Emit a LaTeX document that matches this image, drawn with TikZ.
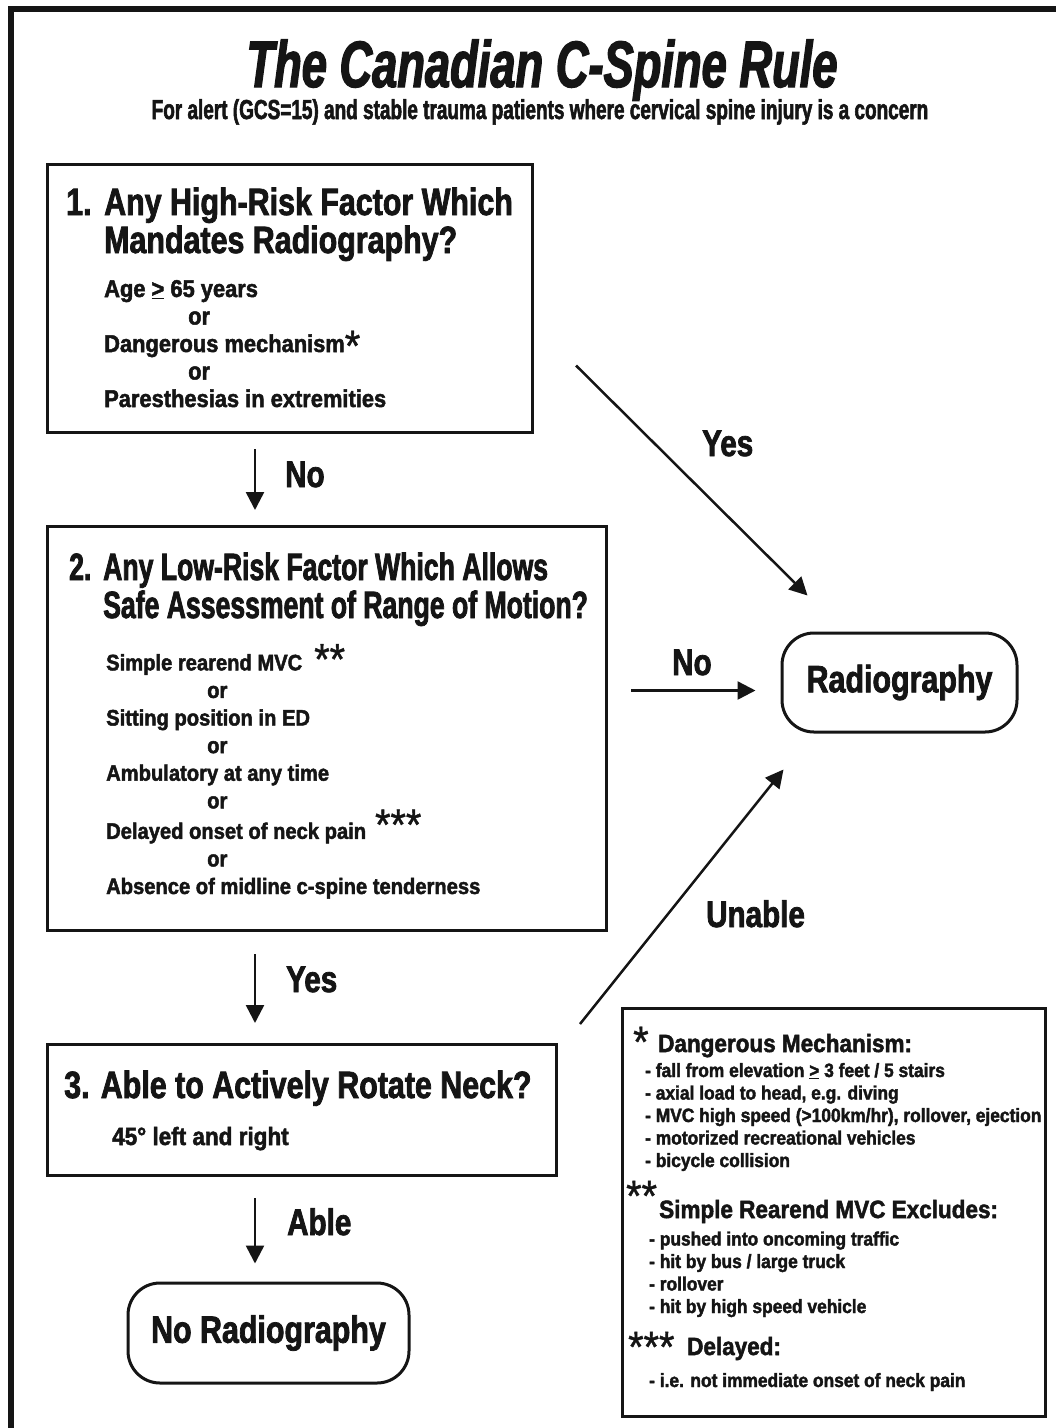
\documentclass[tikz,border=0pt]{standalone}
\usepackage{fontspec}
\usepackage{xcolor}
\usepackage{tikz}
\usetikzlibrary{calc,arrows.meta}
\newfontfamily\ttlfont[FakeStretch=0.69, BoldFeatures={FakeBold=2}, BoldItalicFeatures={FakeBold=2}]{Liberation Sans}
\newfontfamily\hdfont[FakeStretch=0.8, BoldFeatures={FakeBold=2}]{Liberation Sans}
\newfontfamily\hdnarrow[FakeStretch=0.7, BoldFeatures={FakeBold=2}]{Liberation Sans}
\newfontfamily\txtfont[FakeStretch=0.9, BoldFeatures={FakeBold=2}]{Liberation Sans}
\newfontfamily\starfont[FakeStretch=0.9, FakeBold=1]{Liberation Sans}
\definecolor{ink}{HTML}{151515}
\newcommand{\stars}[2]{\raisebox{#1}{\starfont\mdseries\fontsize{44}{44}\selectfont #2}}
\tikzset{
  frame/.style={draw=ink, line width=6.5pt},
  qbox/.style={draw=ink, line width=3pt, anchor=north west, inner sep=0pt},
  endbox/.style={draw=ink, line width=3pt, rounded corners=32pt, inner sep=0pt, text=ink, font=\hdfont\bfseries\fontsize{38}{38}\selectfont},
  flow/.style={draw=ink, line width=2.5pt, -{Triangle[length=18pt,width=18pt]}},
  head/.style={anchor=base west, inner sep=0pt, align=left, text=ink, font=\hdfont\bfseries\fontsize{38}{38}\selectfont},
  lbl/.style={anchor=base west, inner sep=0pt, text=ink, font=\hdfont\bfseries\fontsize{37}{37}\selectfont},
  body/.style={anchor=base west, inner sep=0pt, align=left, text=ink, font=\txtfont\bfseries\fontsize{24.3}{27.5}\selectfont},
  keyhead/.style={anchor=base west, inner sep=0pt, text=ink, font=\txtfont\bfseries\fontsize{25}{25}\selectfont},
  keyitem/.style={anchor=base west, inner sep=0pt, align=left, text=ink, font=\txtfont\bfseries\fontsize{19.3}{22.5}\selectfont},
  star/.style={anchor=base west, inner sep=0pt, text=ink, font=\starfont\mdseries\fontsize{44}{44}\selectfont},
}

\begin{document}
\begin{tikzpicture}[x=1pt,y=-1pt]
  \useasboundingbox (0,0) rectangle (1056,1428);
  \draw[frame] (1070,9) -| (11,1440);

  % title
  \node[anchor=base, inner sep=0pt, text=ink, font=\ttlfont\bfseries\itshape\fontsize{65.6}{66}\selectfont] (title) at (542,87) {The Canadian C-Spine Rule};
  \node[anchor=base, inner sep=0pt, text=ink, font=\ttlfont\bfseries\fontsize{27.5}{28}\selectfont] (sub) at (540,119) {For alert (GCS=15) and stable trauma patients where cervical spine injury is a concern};

  % the three questions (multi-line nodes sit on their last line)
  \node[qbox, minimum width=485pt, minimum height=268pt] (q1) at (46,163) {};
  \node[head] (q1h) at (66,253) {\makebox[38pt][l]{1.}Any High-Risk Factor Which\\\hspace*{38pt}Mandates Radiography?};
  \node[body] (q1b) at (104,407) {Age \underline{>} 65 years\\\hspace*{84pt}or\\Dangerous mechanism\stars{-9pt}{*}\\\hspace*{84pt}or\\Paresthesias in extremities};

  \node[qbox, minimum width=559pt, minimum height=404pt] (q2) at (46,525) {};
  \node[head, font=\hdnarrow\bfseries\fontsize{38}{38}\selectfont] (q2h) at (69,618) {\makebox[34pt][l]{2.}Any Low-Risk Factor Which Allows\\\hspace*{34pt}Safe Assessment of Range of Motion?};
  \node[body, font=\txtfont\bfseries\fontsize{22.4}{27.6}\selectfont] (q2b) at (106,894) {Simple rearend MVC\hspace{12pt}\stars{-4pt}{**}\\\hspace*{101pt}or\\Sitting position in ED\\\hspace*{101pt}or\\Ambulatory at any time\\\hspace*{101pt}or\\Delayed onset of neck pain\hspace{9pt}\stars{-1pt}{***}\\\hspace*{101pt}or\\Absence of midline c-spine tenderness};

  \node[qbox, minimum width=509pt, minimum height=131pt] (q3) at (46,1043) {};
  \node[head] (q3h) at (64,1098) {3. Able to Actively Rotate Neck?};
  \node[body, font=\txtfont\bfseries\fontsize{25}{27}\selectfont] (q3b) at (112,1145) {45° left and right};

  % outcomes
  \node[endbox, minimum width=235pt, minimum height=99pt] (rad) at (899.5,682.5) {Radiography};
  \node[endbox, minimum width=281pt, minimum height=100pt] (nrad) at (268.5,1333) {No Radiography};

  \coordinate (spine) at (255,0);
  \coordinate (noin) at ($(rad.west)+(-25,8)$);
  \coordinate (noout) at ($(q2.east)+(23,0)$);
  \draw[flow, shorten <=15pt, shorten >=15pt] (q1.south -| spine) -- (q2.north -| spine);
  \draw[flow, shorten <=22pt, shorten >=20pt] (q2.south -| spine) -- (q3.north -| spine);
  \draw[flow, shorten <=21pt, shorten >=18pt] (q3.south -| spine) -- (nrad.north -| spine);
  \draw[flow] ($(q1.east)+(42,67)$) -- ($(rad.north west)+(27,-36)$);
  \draw[flow] (noout |- noin) -- (noin);
  \draw[flow] ($(q3.north east)+(22,-19)$) -- ($(rad.south west)+(3,36)$);

  \node[lbl] (no1) at (285,487) {No};
  \node[lbl] (yes2) at (286,992) {Yes};
  \node[lbl] (able) at (287,1235) {Able};
  \node[lbl] (yes1) at (702,456) {Yes};
  \node[lbl] (no2) at (672,675) {No};
  \node[lbl] (unable) at (706,927) {Unable};

  % footnotes
  \node[qbox, minimum width=423pt, minimum height=408pt] (key) at (621,1007) {};
  \node[star] (k1s) at (633,1057) {*};
  \node[keyhead] (k1h) at (658,1052) {Dangerous Mechanism:};
  \node[keyitem] (k1i) at (645,1167) {- fall from elevation \underline{>} 3 feet / 5 stairs\\- axial load to head, e.g. diving\\- MVC high speed (>100km/hr), rollover, ejection\\- motorized recreational vehicles\\- bicycle collision};
  \node[star] (k2s) at (626,1211) {**};
  \node[keyhead] (k2h) at (659,1218) {Simple Rearend MVC Excludes:};
  \node[keyitem] (k2i) at (649,1313) {- pushed into oncoming traffic\\- hit by bus / large truck\\- rollover\\- hit by high speed vehicle};
  \node[star] (k3s) at (628,1362) {***};
  \node[keyhead] (k3h) at (687,1355) {Delayed:};
  \node[keyitem] (k3i) at (649,1387) {- i.e. not immediate onset of neck pain};
\end{tikzpicture}
\end{document}
